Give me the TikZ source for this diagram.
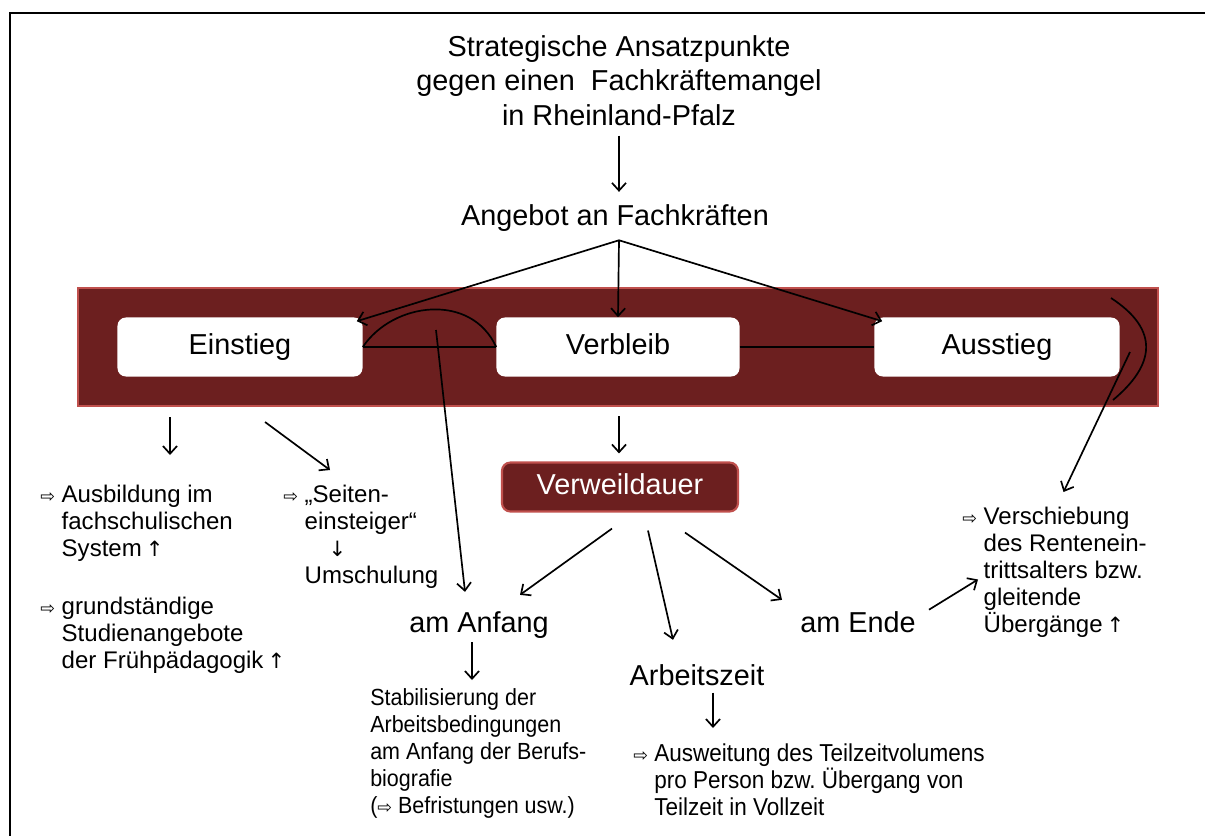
\documentclass[tikz,border=0pt]{standalone}
\usepackage{fontspec}
\setmainfont{Liberation Sans}
\newfontfamily\symf{DejaVu Sans}
\newfontfamily\narrowf[FakeStretch=0.92]{Liberation Sans}
\usetikzlibrary{arrows.meta,calc}
\definecolor{darkred}{RGB}{108,31,31}
\definecolor{edgered}{RGB}{192,80,77}
\newcommand\wra{{\symf\fontsize{12.5}{12.5}\selectfont ⇨}\ }
\newcommand\wind{\phantom{\wra}}
\newcommand\uarr{\,{\symf\fontsize{15}{15}\selectfont ↑}}
\newcommand\darr{{\symf\fontsize{15}{15}\selectfont ↓}}
\frenchspacing
\begin{document}
\begin{tikzpicture}[
	x=0.025cm,
	y=-0.025cm,
	big/.style={font=\fontsize{20.5}{24.5}\selectfont,inner sep=0pt},
	small/.style={font=\fontsize{17.1}{19.2}\selectfont,inner sep=0pt,align=left,anchor=north west},
	narrow/.style={font=\narrowf\fontsize{16.6}{19.2}\selectfont,inner sep=0pt,align=left,anchor=north west},
	wbox/.style={fill=white,rounded corners=6pt,minimum height=1.475cm,font=\fontsize{20.5}{24.5}\selectfont,text height=15pt,text depth=4pt},
	rbox/.style={fill=darkred,draw=edgered,line width=1.5pt},
	conn/.style={line width=1.2pt},
	arr/.style={line width=1.2pt,-{Straight Barb[length=5.5pt,width=10pt]}},
	]
\useasboundingbox (0,0) rectangle (1205,836);
\draw [line width=1.5pt] (10,845) |- (1215,13);
\node [rbox,minimum width=27cm,minimum height=2.95cm] (band) at (618,347) {};
\node [wbox,minimum width=6.125cm] (ein) at (240,347) {Einstieg};
\node [wbox,minimum width=6.075cm] (verb) at (618,347) {Verbleib};
\node [wbox,minimum width=6.125cm] (aus) at (997,347) {Ausstieg};
\node [big,align=center,anchor=north] (title) at (619,35) {Strategische Ansatzpunkte\\gegen einen\ \ Fachkräftemangel\\in Rheinland-Pfalz};
\node [big,anchor=base] (offer) at (615,225) {Angebot an Fachkräften};
\node [rbox,rounded corners=6pt,minimum width=5.9cm,minimum height=1.225cm,text=white,font=\fontsize{20.5}{24.5}\selectfont,text height=15pt,text depth=4pt] (dauer) at (620,487) {Verweildauer};
\node [big,anchor=base] (anf) at (479,632) {am Anfang};
\node [big,anchor=base] (az) at (697,685) {Arbeitszeit};
\node [big,anchor=base] (ende) at (858,632) {am Ende};
\node [small] (ausb) at (40,485) {\wra Ausbildung im\\\wind fachschulischen\\\wind System\uarr};
\node [small] (grund) at (40,597) {\wra grundständige\\\wind Studienangebote\\\wind der Frühpädagogik\uarr};
\node [small] (seit) at (283,485) {\wra „Seiten-\\\wind einsteiger“\\\wind\hspace{1em}\darr\\\wind Umschulung};
\node [small] (ren) at (962,507) {\wra Verschiebung\\\wind des Rentenein-\\\wind trittsalters bzw.\\\wind gleitende\\\wind Übergänge\uarr};
\node [narrow] (stab) at (370,688) {Stabilisierung der\\Arbeitsbedingungen\\am Anfang der Berufs-\\biografie\\({\symf\fontsize{12.5}{12.5}\selectfont ⇨}\ Befristungen usw.)};
\node [narrow,font=\narrowf\fontsize{17.4}{19.2}\selectfont] (ausw) at (633,743) {\wra Ausweitung des Teilzeitvolumens\\\wind pro Person bzw. Übergang von\\\wind Teilzeit in Vollzeit};
\coordinate (fan) at ($(offer.south)+(4,9)$);
\coordinate (arcpt) at (436,330);
\coordinate (brk) at (1130,352);
\coordinate (t1) at (170,417);
\coordinate (t2) at (265,422);
\draw [arr] ($(title.south)+(0,10)$) -- ($(offer.north)+(4,-12)$);
\draw [arr] (fan) -- ($(ein.north east)+(-6,4)$);
\draw [arr] (fan) -- (verb.north);
\draw [arr] (fan) -- ($(aus.north west)+(8,4)$);
\draw [conn] (ein.east) -- (verb.west);
\draw [conn] (verb.east) -- (aus.west);
\draw [conn] (ein.east) .. controls +(30,-45) and +(-25,-55) .. (verb.west);
\draw [conn] (1111,298) .. controls (1160,330) and (1155,365) .. (1113,400);
\draw [arr] (arcpt) -- ($(anf.north)+(-14,-19)$);
\draw [arr] (brk) -- ($(ren.north)+(9,-15)$);
\draw [arr] (t1) -- ($(ausb.north west)+(130,-30)$);
\draw [arr] (t2) -- ($(seit.north west)+(47,-15)$);
\draw [arr] ($(band.south)+(1,9)$) -- ($(dauer.north)+(-1,-8)$);
\draw [arr] ($(dauer.south)+(-8,16)$) -- ($(anf.north)+(41,-16)$);
\draw [arr] ($(dauer.south)+(28,18)$) -- ($(az.north)+(-24,-24)$);
\draw [arr] ($(dauer.south)+(65,20)$) -- ($(ende.north west)+(-18,-11)$);
\draw [arr] ($(ende.east)+(13,-12)$) -- ($(ren.west)+(16,7)$);
\draw [arr] ($(anf.south)+(-7,4)$) -- ($(stab.north west)+(102,-8)$);
\draw [arr] ($(az.south)+(16,7)$) -- ($(ausw.north west)+(80,-15)$);
\end{tikzpicture}
\end{document}
